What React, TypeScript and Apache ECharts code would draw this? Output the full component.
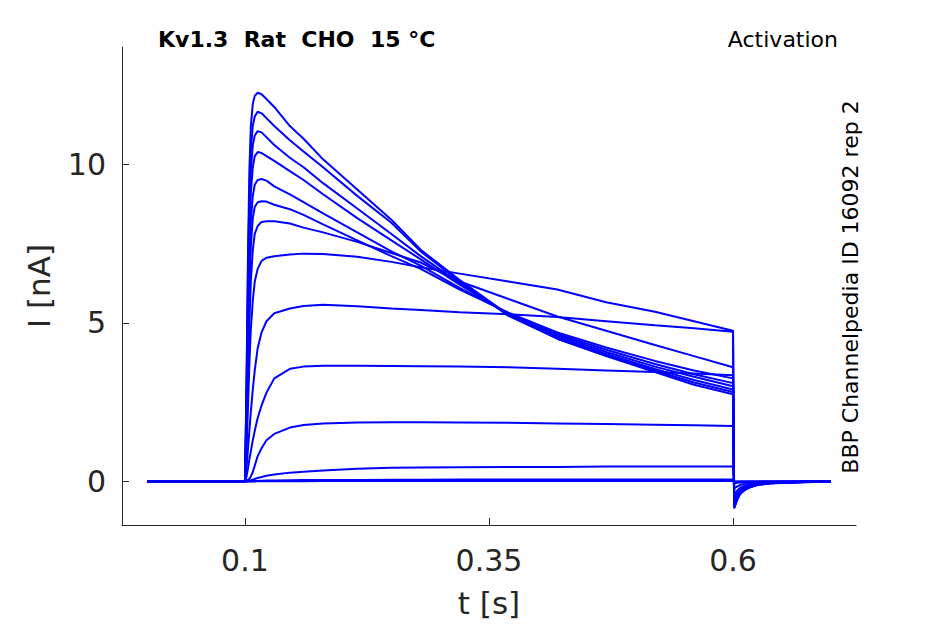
import React, { useEffect, useRef } from "react";
import * as echarts from "echarts";

// time grid shared by all sweeps (s)
const times = [
  0, 0.1, 0.1015, 0.103, 0.1045, 0.106, 0.108, 0.11, 0.113, 0.117, 0.122, 0.13,
  0.146, 0.16, 0.18, 0.215, 0.25, 0.28, 0.32, 0.37, 0.42, 0.47, 0.52, 0.56, 0.6,
  0.6012, 0.604, 0.607, 0.612, 0.617, 0.625, 0.638, 0.655, 0.672, 0.7,
];

// current sweeps (nA)
const sweep1 = [0, 0, 3, 7, 9.8, 11.2, 11.9, 12.15, 12.25, 12.2, 12.05, 11.8, 11.2, 10.8, 10.15, 9.2, 8.25, 7.3, 6.35, 5.25, 4.5, 3.95, 3.45, 3.05, 2.75, -0.85, -0.6, -0.41, -0.27, -0.19, -0.11, -0.06, -0.035, -0.02, 0];
const sweep2 = [0, 0, 2.7, 6.4, 9.1, 10.5, 11.2, 11.5, 11.65, 11.6, 11.45, 11.2, 10.75, 10.4, 9.9, 9.0, 8.15, 7.25, 6.3, 5.22, 4.5, 3.97, 3.5, 3.12, 2.82, -0.82, -0.58, -0.39, -0.26, -0.18, -0.1, -0.055, -0.03, -0.02, 0];
const sweep3 = [0, 0, 2.4, 5.8, 8.4, 9.8, 10.6, 10.9, 11.04, 11.0, 10.85, 10.6, 10.2, 9.9, 9.4, 8.6, 7.8, 7.1, 6.25, 5.25, 4.55, 4.02, 3.55, 3.2, 2.9, -0.8, -0.56, -0.38, -0.25, -0.17, -0.1, -0.055, -0.03, -0.015, 0];
const sweep4 = [0, 0, 2.1, 5.2, 7.7, 9.1, 9.9, 10.25, 10.38, 10.35, 10.25, 10.1, 9.78, 9.5, 9.05, 8.3, 7.6, 7.0, 6.2, 5.27, 4.6, 4.08, 3.62, 3.3, 3.0, -0.78, -0.55, -0.37, -0.24, -0.17, -0.1, -0.05, -0.03, -0.015, 0];
const sweep5 = [0, 0, 1.8, 4.5, 6.8, 8.2, 9.0, 9.35, 9.5, 9.53, 9.48, 9.3, 9.05, 8.8, 8.45, 7.85, 7.25, 6.8, 6.1, 5.3, 4.65, 4.15, 3.7, 3.38, 3.1, -0.75, -0.53, -0.36, -0.23, -0.16, -0.09, -0.05, -0.03, -0.015, 0];
const sweep6 = [0, 0, 1.5, 3.9, 6.0, 7.4, 8.3, 8.65, 8.8, 8.83, 8.82, 8.72, 8.58, 8.4, 8.1, 7.6, 7.1, 6.7, 6.05, 5.32, 4.7, 4.22, 3.8, 3.5, 3.25, -0.72, -0.5, -0.34, -0.22, -0.15, -0.09, -0.05, -0.025, -0.015, 0];
const sweep7 = [0, 0, 1.2, 3.2, 5.0, 6.3, 7.3, 7.8, 8.05, 8.18, 8.2, 8.2, 8.13, 8.0, 7.85, 7.55, 7.2, 6.9, 6.3, 5.75, 5.2, 4.75, 4.3, 3.95, 3.6, -0.68, -0.48, -0.33, -0.21, -0.15, -0.085, -0.045, -0.025, -0.01, 0];
const sweep8 = [0, 0, 0.9, 2.3, 3.7, 4.8, 5.7, 6.3, 6.7, 6.95, 7.05, 7.1, 7.15, 7.18, 7.17, 7.08, 6.92, 6.75, 6.55, 6.3, 6.05, 5.65, 5.35, 5.05, 4.75, -0.62, -0.44, -0.3, -0.2, -0.14, -0.08, -0.04, -0.02, -0.01, 0];
const sweep9 = [0, 0, 0.4, 1.0, 1.6, 2.2, 2.9, 3.5, 4.2, 4.7, 5.05, 5.3, 5.45, 5.53, 5.57, 5.52, 5.45, 5.4, 5.33, 5.27, 5.18, 5.05, 4.92, 4.83, 4.72, -0.55, -0.39, -0.27, -0.18, -0.12, -0.07, -0.04, -0.02, -0.01, 0];
const sweep10 = [0, 0, 0.15, 0.4, 0.7, 0.95, 1.3, 1.6, 2.0, 2.4, 2.8, 3.25, 3.55, 3.62, 3.65, 3.65, 3.64, 3.63, 3.62, 3.6, 3.55, 3.5, 3.45, 3.4, 3.35, -0.42, -0.3, -0.2, -0.13, -0.09, -0.05, -0.03, -0.015, -0.005, 0];
const sweep11 = [0, 0, 0.02, 0.05, 0.09, 0.16, 0.3, 0.5, 0.8, 1.05, 1.3, 1.5, 1.7, 1.78, 1.83, 1.86, 1.87, 1.87, 1.86, 1.85, 1.83, 1.81, 1.79, 1.77, 1.75, -0.22, -0.16, -0.11, -0.07, -0.05, -0.03, -0.015, -0.008, -0.003, 0];
const sweep12 = [0, 0, 0.01, 0.02, 0.03, 0.04, 0.06, 0.08, 0.11, 0.14, 0.18, 0.22, 0.28, 0.31, 0.35, 0.4, 0.43, 0.44, 0.45, 0.46, 0.46, 0.47, 0.47, 0.47, 0.47, -0.06, -0.04, -0.03, -0.02, -0.01, -0.005, 0, 0, 0, 0];
const sweep13 = [0, 0, 0, 0.005, 0.01, 0.01, 0.015, 0.02, 0.02, 0.025, 0.03, 0.035, 0.04, 0.045, 0.05, 0.05, 0.055, 0.055, 0.06, 0.06, 0.06, 0.06, 0.06, 0.06, 0.06, -0.01, -0.005, 0, 0, 0, 0, 0, 0, 0, 0];
const sweep14 = [0, 0, 0, 0, 0, 0, 0, 0, 0.005, 0.005, 0.005, 0.01, 0.01, 0.01, 0.015, 0.015, 0.015, 0.02, 0.02, 0.02, 0.02, 0.02, 0.02, 0.02, 0.02, 0, 0, 0, 0, 0, 0, 0, 0, 0, 0];

const sweeps = [sweep1, sweep2, sweep3, sweep4, sweep5, sweep6, sweep7, sweep8, sweep9, sweep10, sweep11, sweep12, sweep13, sweep14];

const xTicks = [0.1, 0.35, 0.6];
const yTicks = [0, 5, 10];

const titleText = "Kv1.3  Rat  CHO  15 °C";
const protocolText = "Activation";
const sourceText = "BBP Channelpedia ID 16092 rep 2";

const FONT = "DejaVu Sans";
const AXIS_COLOR = "#262626";

export default function App() {
  const ref = useRef<HTMLDivElement>(null);

  useEffect(() => {
    if (!ref.current) return;
    const chart = echarts.init(ref.current, undefined, { renderer: "svg" });

    const series = sweeps.map((vals, i) => ({
      type: "line",
      name: "sweep" + (i + 1),
      data: times.map((t, j) => [t, vals[j]]),
      showSymbol: false,
      symbol: "none",
      silent: true,
      lineStyle: { color: "#0000ff", width: 2 },
      z: 2,
    }));

    chart.setOption({
      animation: false,
      backgroundColor: "#ffffff",
      grid: {
        left: 122,
        right: 89,
        top: 47,
        bottom: 99,
        containLabel: false,
        outerBoundsMode: "none",
      },
      xAxis: {
        type: "value",
        min: -0.026,
        max: 0.726,
        name: "t [s]",
        nameLocation: "middle",
        nameGap: 62,
        nameTextStyle: { fontFamily: FONT, fontSize: 31, color: AXIS_COLOR },
        axisLine: { show: true, onZero: false, lineStyle: { color: AXIS_COLOR, width: 1 } },
        axisTick: { show: true, inside: true, length: 7, customValues: xTicks, lineStyle: { color: AXIS_COLOR } },
        axisLabel: {
          customValues: xTicks,
          margin: 20,
          fontFamily: FONT,
          fontSize: 30,
          color: AXIS_COLOR,
          formatter: (v: number) => String(v),
        },
        splitLine: { show: false },
      },
      yAxis: {
        type: "value",
        min: -1.37,
        max: 13.69,
        name: "I [nA]",
        nameLocation: "middle",
        nameGap: 68,
        nameTextStyle: { fontFamily: FONT, fontSize: 31, color: AXIS_COLOR },
        axisLine: { show: true, onZero: false, lineStyle: { color: AXIS_COLOR, width: 1 } },
        axisTick: { show: true, inside: true, length: 7, customValues: yTicks, lineStyle: { color: AXIS_COLOR } },
        axisLabel: {
          customValues: yTicks,
          margin: 16,
          fontFamily: FONT,
          fontSize: 30,
          color: AXIS_COLOR,
          formatter: (v: number) => String(v),
        },
        splitLine: { show: false },
      },
      graphic: [
        {
          type: "text",
          x: 158,
          y: 39.5,
          style: {
            text: titleText,
            fontFamily: FONT,
            fontSize: 22,
            fontWeight: "bold",
            fill: "#000000",
            textAlign: "left",
            textVerticalAlign: "middle",
          },
        },
        {
          type: "text",
          x: 838,
          y: 39.5,
          style: {
            text: protocolText,
            fontFamily: FONT,
            fontSize: 22,
            fill: "#000000",
            textAlign: "right",
            textVerticalAlign: "middle",
          },
        },
        {
          type: "text",
          x: 850,
          y: 287,
          rotation: Math.PI / 2,
          style: {
            text: sourceText,
            fontFamily: FONT,
            fontSize: 22,
            fill: "#000000",
            textAlign: "center",
            textVerticalAlign: "middle",
          },
        },
      ],
      series,
    });

    return () => chart.dispose();
  }, []);

  return (
    <div
      ref={ref}
      style={{ position: "fixed", left: 0, top: 0, width: 945, height: 624, background: "#fff" }}
    />
  );
}
